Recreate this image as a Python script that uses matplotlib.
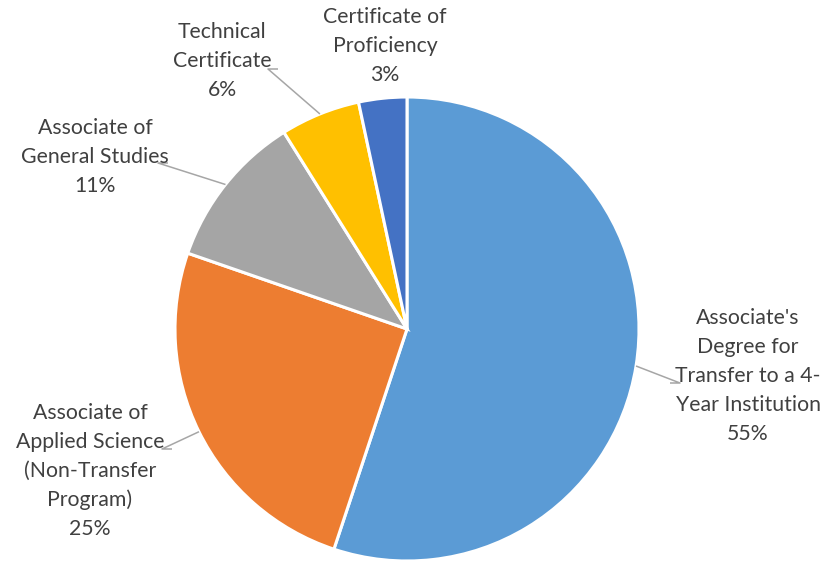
import matplotlib
matplotlib.use("Agg")
import matplotlib.pyplot as plt
import numpy as np

labels = ["Associate's\nDegree for\nTransfer to a 4-\nYear Institution",
          "Associate of\nApplied Science\n(Non-Transfer\nProgram)",
          "Associate of\nGeneral Studies",
          "Technical\nCertificate",
          "Certificate of\nProficiency"]
shares = [55.1, 25.2, 10.8, 5.55, 3.35]
colors = ["#5B9BD5", "#ED7D31", "#A5A5A5", "#FFC000", "#4472C4"]

W, H = 827, 562
CX, CY, R = 407, 329, 232  # pie centre / radius in pixels


def px(x, y):
  # pixel (from top-left) -> data units of the pie
  return (x - CX) / R, (CY - y) / R


# label centre and the text-side end of the leader line, in pixels
label_pos = [(748, 376), (90, 471), (95, 157), (222, 61), (385, 46)]
leader_end = [(670, 383), (172, 449), (168, 163), (278, 69), None]

fig = plt.figure(figsize=(W / 100, H / 100), dpi=100)
ax = fig.add_axes([0, 0, 1, 1])

wedges, _ = ax.pie(shares, colors=colors, startangle=90, counterclock=False,
                   radius=1, wedgeprops=dict(edgecolor="white", linewidth=2.2))

# pie() resets the limits, so set them afterwards
ax.set_xlim(-CX / R, (W - CX) / R)
ax.set_ylim(-(H - CY) / R, CY / R)
ax.set_aspect("equal", adjustable="datalim")
ax.axis("off")

for w, lab, pos, le, v in zip(wedges, labels, label_pos, leader_end, shares):
  mid = np.deg2rad((w.theta1 + w.theta2) / 2)
  tx, ty = px(*pos)
  ax.text(tx, ty, f"{lab}\n{v:.0f}%", ha="center", va="center",
          fontsize=15.3, family="Lato", color="#404040", linespacing=1.55)
  if le is None:
    continue
  ex, ey = np.cos(mid), np.sin(mid)
  lx, ly = px(*le)
  # short horizontal stub next to the text, then a straight run to the slice
  stub = 10 / R if lx > 0 else -10 / R
  ax.plot([lx, lx + stub, ex], [ly, ly, ey], color="#A6A6A6", lw=1.1,
          solid_capstyle="butt")

fig.savefig("out.png", dpi=100)
